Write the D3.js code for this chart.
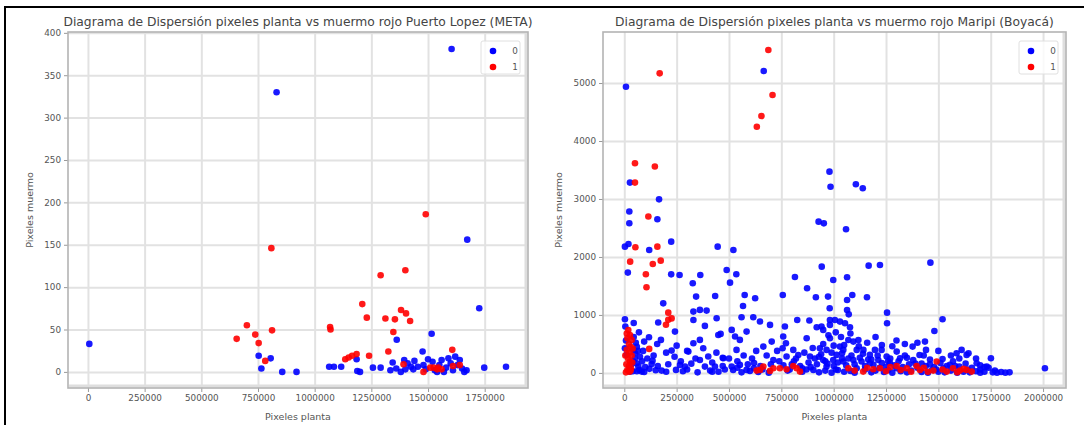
<!DOCTYPE html>
<html>
<head>
<meta charset="utf-8">
<script src="https://cdn.jsdelivr.net/npm/d3@7"></script>
<style>
  body { margin: 0; background: #fff; }
  text { font-family: "DejaVu Sans", sans-serif; }
</style>
</head>
<body>
<svg id="chart" width="1084" height="425"></svg>
<script>
// Puerto Lopez (META): [pixeles planta, pixeles muermo]
var lopezSano = [
  [6000,33],[832000,330],[1604000,381],[1673000,156],[753000,19],[806000,16],[765000,4],
  [857000,0],[920000,0],[1064000,6],[1085000,6],[1117000,6],[1185000,15],[1188000,1],
  [1200000,0],[1257000,5],[1291000,5],[1334000,2],[1344000,11],[1362000,38],[1360000,4],
  [1380000,0],[1395000,14],[1400000,3],[1410000,10],[1425000,6],[1476000,24],[1480000,8],
  [1490000,3],[1500000,15],[1516000,45],[1520000,12],[1530000,2],[1540000,0],[1550000,8],
  [1560000,14],[1570000,0],[1580000,5],[1590000,16],[1600000,10],[1610000,2],[1620000,18],
  [1630000,8],[1640000,14],[1650000,4],[1660000,0],[1670000,2],[1726000,75],[1748000,5],
  [1844000,6],[1455000,6],[1435000,3],[1440000,13]
];
var lopezEnfermo = [
  [656000,39],[701000,55],[738000,44],[753000,34],[782000,13],[809000,146],[812000,49],
  [1068000,53],[1070000,50],[1135000,15],[1150000,17],[1165000,19],[1185000,21],[1210000,80],
  [1230000,64],[1240000,19],[1291000,114],[1312000,63],[1325000,24],[1347000,47],[1354000,62],
  [1381000,73],[1392000,9],[1400000,120],[1403000,69],[1421000,60],[1480000,0],[1490000,186],
  [1510000,5],[1525000,5],[1545000,5],[1560000,3],[1607000,26],[1610000,7],[1640000,8],[1540000,3]
];

// Maripi (Boyaca)
var maripiSano = [
  [8000,4937],[666000,5207],[980000,3471],[985000,3212],[1106000,3253],[1139000,3184],[27000,3283],
  [166000,2994],[24000,2783],[24000,2582],[158000,2651],[928000,2609],[953000,2580],[1059000,2477],
  [3000,2178],[20000,2224],[119000,2121],[224000,2264],[446000,2178],[521000,2121],
  [17000,1730],[224000,1700],[264000,1690],[363000,1690],[489000,1776],[535000,1701],[815000,1655],
  [943000,1833],[1167000,1850],[1221000,1862],[1462000,1902],[998000,1603],[1064000,1650],
  [327000,1546],[505000,1557],[343000,1316],[434000,1328],[575000,1345],[625000,1287],[567000,1155],
  [757000,1345],[873000,1460],[915000,1305],[973000,1316],[981000,1115],[1064000,1259],[1089000,1345],
  [1064000,1086],[1072000,1010],[1159000,1305],[1255000,1040],[1255000,857],[1520000,925],[1481000,724],
  [1611000,397],[1644000,340],[1751000,253],[2009000,81],
  [1006000,914],[1030000,885],[982000,828],[1054000,857],[1078000,788],[950000,742],[982000,598],
  [1030000,454],[1070000,569],[1094000,540],[1118000,569],[966000,397],[1014000,311],[1046000,397],
  [1110000,397],[1142000,397],[1173000,311],[1197000,397],[1229000,397],[1253000,282],[1301000,368],
  [1317000,253],[1269000,167],[1213000,224],[1173000,167],[1133000,196],[1094000,224],[1046000,196],
  [998000,224],[950000,224],[1377000,454],[1436000,540],[1441000,397],[1587000,339],[1635000,311],
  [1731000,109],[1683000,167],[1555000,138],[1524000,80],
  [130500,155],[178300,40],[226000,385],[266000,138],[247000,52],[306000,368],[330000,512],
  [361000,570],[377000,425],[401000,282],[385000,109],[361000,224],[433000,109],[449000,655],
  [473000,253],[513000,742],[529000,627],[552000,570],[584000,713],[536000,397],[513000,109],
  [552000,138],[584000,52],[619000,80],[664000,454],[704000,540],[712000,224],[759000,627],
  [772000,512],[756000,425],[775000,282],[807000,397],[831000,310],[871000,598],[887000,282],
  [903000,52],[934000,425],[966000,109],[942000,800],[982000,914],[330000,1058],[361000,1087],
  [393000,1075],[441000,943],[330000,914],[385000,811],[460000,673],[560000,960],[616000,960],
  [648000,886],[696000,828],[826000,914],[884000,903],[919000,788],[767000,800],
  [186000,1200],[162000,870],[242000,713],[3000,925],[118000,615],[175000,570],[157000,500],
  [75000,280],[59000,167],[43000,400],[72000,52],
  [3000,425],[11000,311],[43000,196],[67000,109],[83000,23],[27000,23],[51000,339],
  [40000,30],[95000,15],[150000,45],[200000,20],[280000,30],[300000,60],[350000,10],[410000,40],
  [450000,20],[480000,60],[560000,10],[600000,35],[640000,15],[660000,60],[690000,5],[850000,20],
  [870000,60],[930000,10],[960000,40],[990000,5],[1020000,50],[1050000,20],[1080000,35],[1100000,5],
  [1150000,60],[1180000,10],[1200000,40],[1240000,15],[1260000,50],[1280000,5],[1320000,30],
  [1350000,10],[1370000,40],[1420000,15],[1450000,5],[1470000,50],[1500000,20],[1530000,10],
  [1560000,40],[1590000,5],[1620000,20],[1650000,10],[1680000,30],[1700000,5],[1720000,20],
  [1760000,10],[1780000,5],[1800000,15],[1820000,5],[1840000,10],
  [1000000,120],[1020000,180],[1040000,250],[1060000,130],[1085000,300],[1100000,150],[1125000,260],
  [1150000,120],[1165000,230],[1190000,140],[1210000,300],[1230000,170],[1250000,100],[1270000,250],
  [1290000,130],[1310000,200],[1330000,100],[1340000,300],[1360000,150],[1380000,220],[1400000,90],
  [1420000,160],[1440000,120],[1460000,230],[1480000,100],[1510000,170],[1540000,120],[1570000,200],
  [1600000,110],[1630000,160],[1660000,90],[1700000,130],[1740000,90],
  [800000,150],[820000,250],[840000,120],[860000,350],[880000,180],[900000,430],[910000,250],
  [920000,150],[940000,320],[950000,500],[960000,200],[975000,650],[990000,350],[1000000,470],
  [1010000,700],[1035000,620],[1050000,480],[1080000,680],[1120000,460],[1160000,520],[1200000,620],
  [1230000,480],[1280000,460],[1300000,560],[1340000,500],[1400000,520],[1430000,300],[1500000,380],
  [1560000,300],[1600000,250],[1680000,250],[1720000,100],
  [25000,60],[35000,150],[60000,450],[90000,380],[100000,100],[110000,250],[140000,300],[160000,120],
  [200000,350],[210000,150],[240000,280],[270000,200],[290000,110],[250000,470],[300000,380],
  [320000,160],[340000,250],[420000,180],[440000,350],[470000,120],[500000,250],[520000,50],
  [540000,200],[570000,300],[590000,150],[610000,250],[630000,380],[650000,120],[680000,300],
  [700000,150],[730000,380],[740000,200],[790000,60],[810000,200],
  [45000,620],[55000,520],[50000,250],[65000,380],[85000,200],[120000,70],[135000,210],[60000,30],
  [5000,800],[8000,560],[45000,860],[70000,700],[95000,540],[420000,20],[470000,260],[540000,90],
  [620000,170],[760000,130],[780000,40],[850000,80],[890000,100],[930000,280],[970000,160],
  [1010000,60],[1040000,340],[1070000,250],[1110000,80],[1140000,330],[1180000,230],[1220000,90],
  [1260000,200],[1300000,80],[1350000,260],[1390000,160],[1410000,310],[1460000,150],[1490000,60],
  [1520000,240],[1580000,120],[1640000,60],[1700000,60],[1770000,40]
];
var maripiEnfermo = [
  [688000,5569],[169000,5167],[708000,4793],[655000,4431],[633000,4247],
  [51000,3617],[146000,3559],[51000,3283],[115000,2697],
  [53000,2167],[158000,2178],[28000,1919],[136000,1879],[174000,1936],[103000,1701],[106000,1477],
  [210000,1040],[226000,940],[199000,830],[210000,915],[119000,414],
  [19000,740],[27000,655],[35000,570],[15000,600],[22000,500],[30000,450],[12000,400],[25000,350],
  [35000,300],[18000,250],[28000,200],[10000,150],[22000,120],[32000,80],[15000,50],[25000,20],
  [8000,10],[38000,180],[5000,300],[40000,420],[12000,680],[30000,40],
  [648000,52],[712000,80],[743000,80],[775000,63],[807000,120],[823000,80],[664000,109],
  [839000,23],[696000,35],[632000,40],
  [1070000,80],[1141000,23],[1189000,63],[1221000,80],[1301000,120],[1349000,80],[1396000,120],
  [1412000,52],[1476000,40],[1492000,196],[1540000,23],[1603000,40],[1635000,52],[1659000,23],
  [1100000,40],[1160000,90],[1250000,30],[1270000,100],[1320000,50],[1370000,20],[1430000,90],
  [1450000,20],[1520000,60],[1570000,80],[1590000,10],[1620000,70]
];

var leyenda = ["0", "1"];
var colores = ["#0000ff", "#ff0000"];

var lopezXTicks = [0, 250000, 500000, 750000, 1000000, 1250000, 1500000, 1750000];
var lopezYTicks = [0, 50, 100, 150, 200, 250, 300, 350, 400];
var maripiXTicks = [0, 250000, 500000, 750000, 1000000, 1250000, 1500000, 1750000, 2000000];
var maripiYTicks = [0, 1000, 2000, 3000, 4000, 5000];

var svg = d3.select("#chart");

// marco negro (borde de la captura)
svg.append("path")
  .attr("d", "M5,425V7H1084")
  .attr("fill", "none")
  .attr("stroke", "#000")
  .attr("stroke-width", 2);

function drawPanel(p) {
  var x = d3.scaleLinear().domain(p.xDomain).range([p.left, p.right]);
  var y = d3.scaleLinear().domain(p.yDomain).range([p.bottom, p.top]);
  var w = p.right - p.left, h = p.bottom - p.top;

  var g = svg.append("g");

  // grid
  g.append("g")
    .attr("transform", "translate(0," + p.bottom + ")")
    .call(d3.axisBottom(x).tickValues(p.xTicks).tickSize(-h).tickFormat(""))
    .call(s => s.select(".domain").remove())
    .selectAll("line").attr("stroke", "#e2e2e2").attr("stroke-width", 2);
  g.append("g")
    .attr("transform", "translate(" + p.left + ",0)")
    .call(d3.axisLeft(y).tickValues(p.yTicks).tickSize(-w).tickFormat(""))
    .call(s => s.select(".domain").remove())
    .selectAll("line").attr("stroke", "#e2e2e2").attr("stroke-width", 2);

  // ejes con marcas y etiquetas
  var ax = g.append("g")
    .attr("transform", "translate(0," + p.bottom + ")")
    .call(d3.axisBottom(x).tickValues(p.xTicks).tickSize(4).tickPadding(3).tickFormat(d3.format("d")));
  var ay = g.append("g")
    .attr("transform", "translate(" + p.left + ",0)")
    .call(d3.axisLeft(y).tickValues(p.yTicks).tickSize(4).tickPadding(3).tickFormat(d3.format("d")));
  [ax, ay].forEach(function (a) {
    a.select(".domain").remove();
    a.selectAll("line").attr("stroke", "#999");
    a.selectAll("text")
      .attr("fill", "#555")
      .style("font-size", "8.8px")
      .style("font-family", "DejaVu Sans");
  });

  // marco de los ejes
  g.append("line").attr("x1", p.left + 1).attr("x2", p.right - 1)
    .attr("y1", p.bottom - 2).attr("y2", p.bottom - 2)
    .attr("stroke", "#dedede").attr("stroke-width", 3);
  g.append("line").attr("x1", p.right - 2).attr("x2", p.right - 2)
    .attr("y1", p.top + 1).attr("y2", p.bottom - 1)
    .attr("stroke", "#dedede").attr("stroke-width", 3);
  g.append("rect")
    .attr("x", p.left).attr("y", p.top).attr("width", w).attr("height", h)
    .attr("fill", "none").attr("stroke", "#b3b3b3").attr("stroke-width", 1.6);

  // puntos
  [p.sano, p.enfermo].forEach(function (serie, i) {
    g.append("g").selectAll("circle")
      .data(serie)
      .enter()
      .append("circle")
      .attr("cx", d => x(d[0]))
      .attr("cy", d => y(d[1]))
      .attr("r", 3.3)
      .attr("fill", colores[i])
      .attr("fill-opacity", 0.9);
  });

  // titulo y etiquetas
  g.append("text")
    .attr("x", (p.left + p.right) / 2).attr("y", p.top - 6)
    .attr("text-anchor", "middle")
    .attr("fill", "#444")
    .style("font-size", "12.3px")
    .text(p.title);
  g.append("text")
    .attr("x", (p.left + p.right) / 2).attr("y", 420)
    .attr("text-anchor", "middle")
    .attr("fill", "#555")
    .style("font-size", "9.5px")
    .text("Pixeles planta");
  g.append("text")
    .attr("transform", "translate(" + p.ylabelX + "," + ((p.top + p.bottom) / 2) + ") rotate(-90)")
    .attr("text-anchor", "middle")
    .attr("dy", "0.35em")
    .attr("fill", "#555")
    .style("font-size", "9.5px")
    .text("Pixeles muermo");

  // leyenda
  var lg = g.append("g").attr("transform", "translate(" + (p.right - 47) + "," + (p.top + 9) + ")");
  lg.append("rect").attr("width", 39).attr("height", 33).attr("rx", 2)
    .attr("fill", "#fff").attr("fill-opacity", 0.8).attr("stroke", "#e0e0e0");
  leyenda.forEach(function (l, i) {
    lg.append("circle").attr("cx", 12).attr("cy", 10 + i * 16).attr("r", 3.3).attr("fill", colores[i]);
    lg.append("text").attr("x", 34).attr("y", 10 + i * 16).attr("dy", "0.35em")
      .attr("text-anchor", "middle").attr("fill", "#555").style("font-size", "8.8px").text(l);
  });
}

drawPanel({
  left: 68, right: 528, top: 32, bottom: 388, ylabelX: 30,
  xDomain: [-88000, 1941000], yDomain: [-19, 401],
  xTicks: lopezXTicks, yTicks: lopezYTicks,
  sano: lopezSano, enfermo: lopezEnfermo,
  title: "Diagrama de Dispersión pixeles planta vs muermo rojo Puerto Lopez (META)"
});
drawPanel({
  left: 603, right: 1066, top: 32, bottom: 388, ylabelX: 559,
  xDomain: [-101700, 2109600], yDomain: [-260, 5880],
  xTicks: maripiXTicks, yTicks: maripiYTicks,
  sano: maripiSano, enfermo: maripiEnfermo,
  title: "Diagrama de Dispersión pixeles planta vs muermo rojo Maripi (Boyacá)"
});
</script>
</body>
</html>
